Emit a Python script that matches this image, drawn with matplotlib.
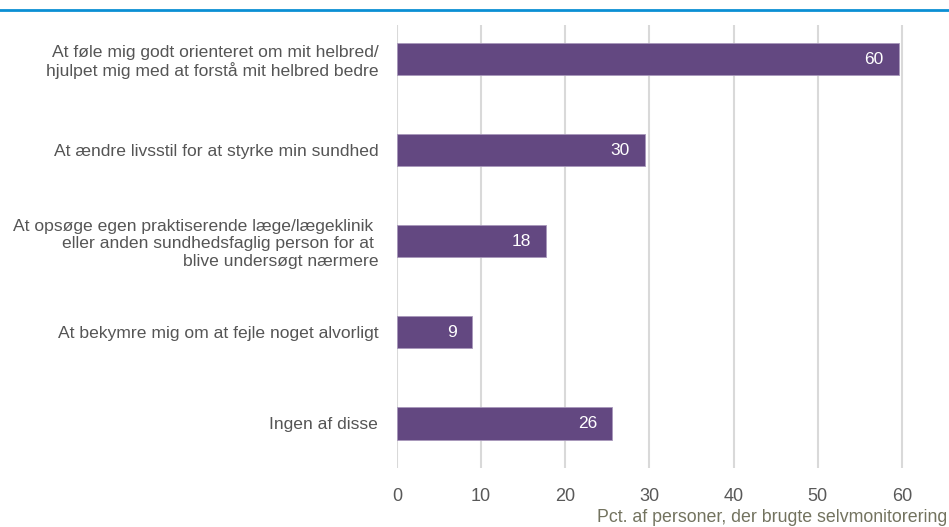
import matplotlib
matplotlib.use("Agg")
import matplotlib.pyplot as plt
from matplotlib.lines import Line2D

plt.rcParams['font.family'] = ['Liberation Sans', 'DejaVu Sans']

categories = [
    "At føle mig godt orienteret om mit helbred/\nhjulpet mig med at forstå mit helbred bedre",
    "At ændre livsstil for at styrke min sundhed",
    "At opsøge egen praktiserende læge/lægeklinik \neller anden sundhedsfaglig person for at \nblive undersøgt nærmere",
    "At bekymre mig om at fejle noget alvorligt",
    "Ingen af disse",
]
values = [59.6, 29.5, 17.7, 8.9, 25.6]
xticks = [0, 10, 20, 30, 40, 50, 60]
xlabel = "Pct. af personer, der brugte selvmonitorering"

bar_color = "#634881"
text_gray = "#595959"

fig = plt.figure(figsize=(9.49, 5.27), dpi=100)
ax = fig.add_axes([397 / 949, 1 - 468 / 527, (949 - 397) / 949, (468 - 25) / 527])

ypos = list(range(len(categories)))
bars = ax.barh(ypos, values, height=0.355, color=bar_color,
               edgecolor="#a898bb", linewidth=0.6, zorder=3)

for b, v in zip(bars, values):
    ax.annotate("%.0f" % v, (b.get_width(), b.get_y() + b.get_height() / 2),
                xytext=(-11, 0), textcoords="offset points",
                ha="right", va="center", color="white", fontsize=12.5)

ax.set_xlim(0, 65.6)
ax.set_ylim(4.49, -0.374)
ax.set_xticks(xticks)
ax.set_yticks(ypos)
ax.set_yticklabels(categories, fontsize=12.6, color="#555555", linespacing=1.2)
ax.tick_params(axis="y", length=0, pad=13.5)
ax.tick_params(axis="x", length=0, pad=14.5, labelsize=13, labelcolor=text_gray)
ax.grid(axis="x", color="#d9d9d9", linewidth=1.5, zorder=0)
for s in ax.spines.values():
    s.set_visible(False)

fig.text(947 / 949, 1 - 517 / 527, xlabel, ha="right", va="center",
         fontsize=12.75, color="#73735f")

# blue rule across the top
fig.add_artist(Line2D([0, 1], [1 - 10 / 527, 1 - 10 / 527], color="#0b8fd4",
                      linewidth=2, transform=fig.transFigure))

fig.savefig("out.png", dpi=100)
